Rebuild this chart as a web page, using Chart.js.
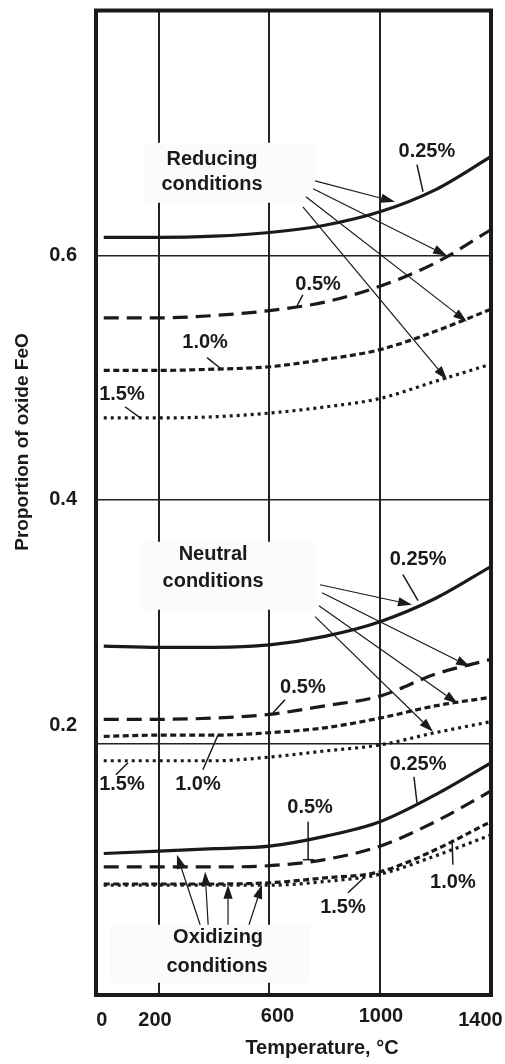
<!DOCTYPE html>
<html>
<head>
<meta charset="utf-8">
<script src="https://cdn.jsdelivr.net/npm/chart.js@4.4.0/dist/chart.umd.min.js"></script>
<style>
html,body{margin:0;padding:0;background:#ffffff;}
#wrap{width:505px;height:1064px;position:relative;}
</style>
</head>
<body>
<div id="wrap"><canvas id="c"></canvas></div>
<script>
// ---------- data ----------
const temperatures = [0, 200, 400, 600, 800, 1000, 1200, 1400];

const reducing025 = [0.615, 0.615, 0.616, 0.619, 0.625, 0.636, 0.654, 0.681];
const reducing05  = [0.549, 0.549, 0.551, 0.555, 0.562, 0.575, 0.594, 0.621];
const reducing10  = [0.506, 0.506, 0.507, 0.509, 0.515, 0.523, 0.538, 0.556];
const reducing15  = [0.467, 0.467, 0.468, 0.471, 0.476, 0.483, 0.497, 0.511];

const neutral025 = [0.280, 0.279, 0.279, 0.281, 0.288, 0.300, 0.319, 0.345];
const neutral05  = [0.220, 0.220, 0.221, 0.224, 0.231, 0.239, 0.257, 0.269];
const neutral10  = [0.206, 0.207, 0.207, 0.209, 0.213, 0.221, 0.231, 0.238];
const neutral15  = [0.186, 0.186, 0.186, 0.189, 0.194, 0.199, 0.209, 0.218];

const oxidizing025 = [0.110, 0.112, 0.114, 0.116, 0.124, 0.136, 0.158, 0.184];
const oxidizing05  = [0.099, 0.099, 0.099, 0.100, 0.105, 0.116, 0.136, 0.161];
const oxidizing10  = [0.085, 0.085, 0.085, 0.086, 0.090, 0.095, 0.113, 0.136];
const oxidizing15  = [0.084, 0.084, 0.084, 0.084, 0.087, 0.093, 0.108, 0.125];

const xTickValues = [0, 200, 600, 1000, 1400];
const xTickLabels = ['0', '200', '600', '1000', '1400'];
const yTickValues = [0.2, 0.4, 0.6];
const yTickLabels = ['0.2', '0.4', '0.6'];

const xTitle = 'Temperature, °C';
const yTitle = 'Proportion of oxide FeO';

// ---------- styles ----------
const FONT = "'Liberation Sans', Arial, Helvetica, sans-serif";
const INK = '#1a1a1a';
const dashByCarbon = {
  '0.25%': [],
  '0.5%': [15, 8],
  '1.0%': [6, 3.5],
  '1.5%': [3, 4]
};
// per-label nudges (px) for the hand-placed x tick labels of the original
const xLabelDx = [-2, -4, 8, 1, -10];
const xLabelDy = [0, 0, -4, -4, 0];

// annotation layout (data coordinates: temperature, proportion)
const boxes = [
  {x1: 149, x2: 765, y1: 0.6926, y2: 0.6434},
  {x1: 131, x2: 772, y1: 0.3655, y2: 0.3098},
  {x1: 23,  x2: 747, y1: 0.0516, y2: 0.0041}
];
const notes = [
  ['Reducing', 392, 0.6787], ['conditions', 392, 0.6582],
  ['Neutral', 396, 0.3549], ['conditions', 396, 0.3328],
  ['Oxidizing', 414, 0.0409], ['conditions', 410, 0.0172],
  ['0.25%', 1170, 0.6852], ['0.5%', 776, 0.5762], ['1.0%', 367, 0.5287], ['1.5%', 66, 0.486],
  ['0.25%', 1138, 0.3508], ['0.5%', 721, 0.2459], ['1.0%', 341, 0.1664], ['1.5%', 66, 0.1664],
  ['0.25%', 1138, 0.1828], ['0.5%', 747, 0.1475], ['1.0%', 1264, 0.086], ['1.5%', 866, 0.0655]
];
const leaders = [
  [1134, 0.6746, 1156, 0.6524], [721, 0.568, 700, 0.559], [374, 0.5164, 429, 0.5065], [77, 0.4762, 131, 0.4672],
  [1083, 0.3385, 1138, 0.3172], [656, 0.236, 613, 0.2254], [359, 0.1787, 414, 0.2073], [44, 0.1746, 88, 0.1844],
  [1123, 0.1729, 1134, 0.1516], [740, 0.136, 740, 0.1049], [721, 0.1049, 761, 0.1049],
  [1264, 0.1008, 1261, 0.1213], [884, 0.0778, 946, 0.0909]
];
const arrows = [
  [765, 0.6614, 1054, 0.6442], [758, 0.6549, 1243, 0.600], [732, 0.6483, 1315, 0.5459], [721, 0.6401, 1243, 0.4983],
  [783, 0.3303, 1116, 0.3139], [790, 0.3237, 1326, 0.2631], [779, 0.3131, 1282, 0.2328], [765, 0.3041, 1192, 0.2098],
  [349, 0.0516, 265, 0.109], [378, 0.0516, 367, 0.095], [450, 0.0516, 450, 0.0844], [526, 0.0516, 573, 0.0844]
];

// ---------- datasets ----------
function series(name, carbon, values) {
  return {
    label: name + ' ' + carbon,
    data: temperatures.map((t, i) => ({x: t, y: values[i]})),
    borderColor: INK,
    borderWidth: 3.2,
    borderDash: dashByCarbon[carbon],
    borderCapStyle: 'butt',
    pointRadius: 0,
    fill: false,
    cubicInterpolationMode: 'monotone'
  };
}
const datasets = [
  series('Reducing', '0.25%', reducing025), series('Reducing', '0.5%', reducing05),
  series('Reducing', '1.0%', reducing10), series('Reducing', '1.5%', reducing15),
  series('Neutral', '0.25%', neutral025), series('Neutral', '0.5%', neutral05),
  series('Neutral', '1.0%', neutral10), series('Neutral', '1.5%', neutral15),
  series('Oxidizing', '0.25%', oxidizing025), series('Oxidizing', '0.5%', oxidizing05),
  series('Oxidizing', '1.0%', oxidizing10), series('Oxidizing', '1.5%', oxidizing15)
];

// ---------- drawing plugin ----------
const decor = {
  id: 'decor',
  beforeDatasetsDraw(chart) {
    const {ctx, scales: {x, y}} = chart;
    ctx.save();
    ctx.fillStyle = '#fbfbfb';
    boxes.forEach(b => {
      const px1 = x.getPixelForValue(b.x1), px2 = x.getPixelForValue(b.x2);
      const py1 = y.getPixelForValue(b.y1), py2 = y.getPixelForValue(b.y2);
      ctx.fillRect(px1, py1, px2 - px1, py2 - py1);
    });
    ctx.restore();
  },
  afterDatasetsDraw(chart) {
    const {ctx, scales: {x, y}} = chart;
    ctx.save();
    ctx.strokeStyle = INK;
    ctx.fillStyle = INK;
    ctx.lineCap = 'butt';
    // leader lines
    ctx.lineWidth = 1.5;
    leaders.forEach(l => {
      ctx.beginPath();
      ctx.moveTo(x.getPixelForValue(l[0]), y.getPixelForValue(l[1]));
      ctx.lineTo(x.getPixelForValue(l[2]), y.getPixelForValue(l[3]));
      ctx.stroke();
    });
    // arrows
    arrows.forEach(r => {
      const x1 = x.getPixelForValue(r[0]), y1 = y.getPixelForValue(r[1]);
      const x2 = x.getPixelForValue(r[2]), y2 = y.getPixelForValue(r[3]);
      const ang = Math.atan2(y2 - y1, x2 - x1);
      const L = 14, W = 4.6;
      const bx = x2 - L * Math.cos(ang), by = y2 - L * Math.sin(ang);
      ctx.lineWidth = 1.2;
      ctx.beginPath();
      ctx.moveTo(x1, y1);
      ctx.lineTo(bx, by);
      ctx.stroke();
      ctx.beginPath();
      ctx.moveTo(x2, y2);
      ctx.lineTo(bx + W * Math.sin(ang), by - W * Math.cos(ang));
      ctx.lineTo(bx - W * Math.sin(ang), by + W * Math.cos(ang));
      ctx.closePath();
      ctx.fill();
    });
    // texts
    ctx.font = 'bold 20px ' + FONT;
    ctx.textAlign = 'center';
    ctx.textBaseline = 'middle';
    notes.forEach(n => ctx.fillText(n[0], x.getPixelForValue(n[1]), y.getPixelForValue(n[2])));
    ctx.restore();
  },
  afterDraw(chart) {
    const {ctx, scales: {x}, chartArea: a} = chart;
    ctx.save();
    // frame
    ctx.strokeStyle = INK;
    ctx.lineWidth = 4;
    ctx.strokeRect(a.left, a.top, a.right - a.left, a.bottom - a.top);
    // x tick labels
    ctx.fillStyle = INK;
    ctx.font = 'bold 20px ' + FONT;
    ctx.textAlign = 'center';
    ctx.textBaseline = 'middle';
    xTickValues.forEach((v, i) => {
      ctx.fillText(xTickLabels[i], x.getPixelForValue(v) + xLabelDx[i], a.bottom + 25 + xLabelDy[i]);
    });
    // x title
    ctx.fillText(xTitle, 322, a.bottom + 53);
    // y title
    ctx.font = 'bold 19px ' + FONT;
    ctx.translate(23, 442);
    ctx.rotate(-Math.PI / 2);
    ctx.fillText(yTitle, 0, 0);
    ctx.restore();
  }
};

new Chart(document.getElementById('c'), {
  type: 'line',
  data: {datasets},
  options: {
    responsive: true,
    maintainAspectRatio: false,
    animation: false,
    layout: {padding: {left: 0, right: 14, top: 10.5, bottom: 0}},
    plugins: {legend: {display: false}, tooltip: {enabled: false}},
    scales: {
      x: {
        type: 'linear', min: -28, max: 1402,
        afterBuildTicks: s => { s.ticks = xTickValues.map(v => ({value: v})); },
        afterFit: s => { s.height = 69; s.paddingLeft = 0; s.paddingRight = 0; },
        grid: {
          color: c => (c.tick && (c.tick.value === 200 || c.tick.value === 600 || c.tick.value === 1000)) ? '#222' : 'rgba(0,0,0,0)',
          lineWidth: 2, drawTicks: false
        },
        border: {display: false},
        ticks: {display: false}
      },
      y: {
        type: 'linear', min: -0.006, max: 0.801,
        afterBuildTicks: s => { s.ticks = yTickValues.map(v => ({value: v})); },
        afterFit: s => { s.width = 96; s.paddingTop = 0; s.paddingBottom = 0; },
        grid: {color: '#222', lineWidth: 1.6, drawTicks: false},
        border: {display: false},
        ticks: {
          padding: 19, color: INK,
          font: {family: FONT, size: 20, weight: 'bold', lineHeight: 1.8},
          callback: (v, i) => i === 0 ? [yTickLabels[i], ''] : yTickLabels[i]
        }
      }
    }
  },
  plugins: [decor]
});
</script>
</body>
</html>
